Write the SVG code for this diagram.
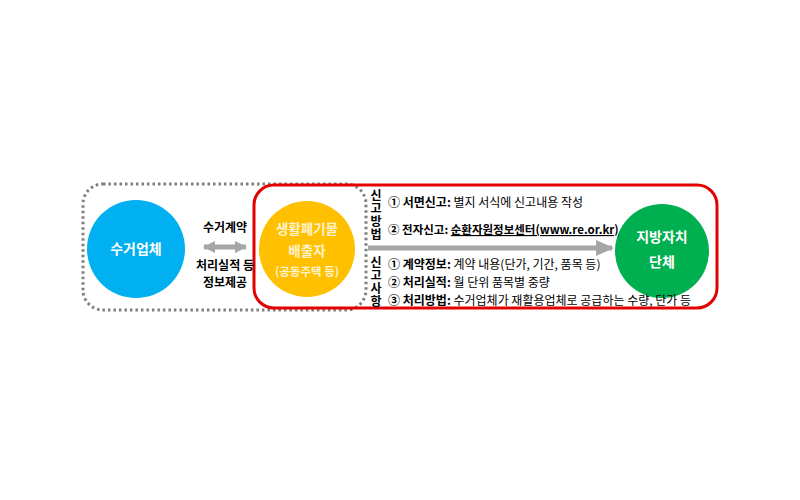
<svg xmlns="http://www.w3.org/2000/svg" width="800" height="500" viewBox="0 0 800 500">
<style>
text{font-family:"Noto Sans CJK KR","Liberation Sans",sans-serif;}
.ct{fill:#ffffff;font-weight:bold;font-size:14px;text-anchor:middle;}
.lb{fill:#000000;font-weight:bold;font-size:12px;text-anchor:middle;}
.ln{fill:#000000;font-size:12px;}
.b{font-weight:bold;}
.vt{fill:#000000;font-weight:bold;font-size:12px;writing-mode:vertical-rl;letter-spacing:1px;}
</style>
<defs>
<marker id="ah" markerUnits="userSpaceOnUse" markerWidth="18" markerHeight="16" refX="16" refY="8" orient="auto-start-reverse">
<path d="M0,0 L18,8 L0,16 Z" fill="#a6a6a6"/>
</marker>
<marker id="ah2" markerUnits="userSpaceOnUse" markerWidth="12" markerHeight="12" refX="11" refY="6" orient="auto-start-reverse">
<path d="M0,0 L12,6 L0,12 Z" fill="#a6a6a6"/>
</marker>
</defs>
<rect width="800" height="500" fill="#ffffff"/>
<g id="boxes">
<rect id="dotted-box" x="83" y="184" width="283" height="126" rx="20" fill="none" stroke="#7f7f7f" stroke-width="3" stroke-dasharray="2.5 3"/>
<rect id="red-box" x="254" y="185" width="463" height="123" rx="20" fill="none" stroke="#e30000" stroke-width="3"/>
</g>
<g id="connectors">
<line x1="204" y1="247" x2="246" y2="247" stroke="#a6a6a6" stroke-width="5" marker-start="url(#ah2)" marker-end="url(#ah2)"/>
<line x1="368" y1="248" x2="612" y2="248" stroke="#a6a6a6" stroke-width="5" marker-end="url(#ah)"/>
</g>
<g id="node-collector">
<circle cx="136" cy="249" r="49" fill="#00b0f0"/>
<text class="ct" x="136" y="254">수거업체</text>
</g>
<g id="node-discharger">
<circle cx="307" cy="249" r="48" fill="#ffc000"/>
<text class="ct" x="307" y="234" style="fill:#fff2cc;font-size:13.5px">생활폐기물</text>
<text class="ct" x="307" y="256" style="fill:#fff2cc;font-size:13.5px">배출자</text>
<text class="ct" x="307" y="276" style="fill:#fff2cc;font-size:11.5px">(공동주택 등)</text>
</g>
<g id="node-local-gov">
<circle cx="662" cy="251" r="47" fill="#00b050"/>
<text class="ct" x="662" y="242">지방자치</text>
<text class="ct" x="662" y="267">단체</text>
</g>
<g id="left-labels">
<text class="lb" x="225" y="232">수거계약</text>
<text class="lb" x="225" y="270">처리실적 등</text>
<text class="lb" x="225" y="287">정보제공</text>
</g>
<g id="right-labels">
<text class="vt" x="376" y="189">신고방법</text>
<text class="vt" x="376" y="256">신고사항</text>
<text class="ln" x="388" y="207"><tspan class="b">① 서면신고:</tspan> 별지 서식에 신고내용 작성</text>
<text class="ln" x="388" y="234" style="font-size:11.5px"><tspan class="b">② 전자신고: </tspan><tspan class="b" text-decoration="underline">순환자원정보센터(www.re.or.kr)</tspan></text>
<text class="ln" x="388" y="269"><tspan class="b">① 계약정보:</tspan> 계약 내용(단가, 기간, 품목 등)</text>
<text class="ln" x="388" y="287"><tspan class="b">② 처리실적:</tspan> 월 단위 품목별 중량</text>
<text class="ln" x="388" y="305"><tspan class="b">③ 처리방법:</tspan> 수거업체가 재활용업체로 공급하는 수량, 단가 등</text>
</g>
</svg>
